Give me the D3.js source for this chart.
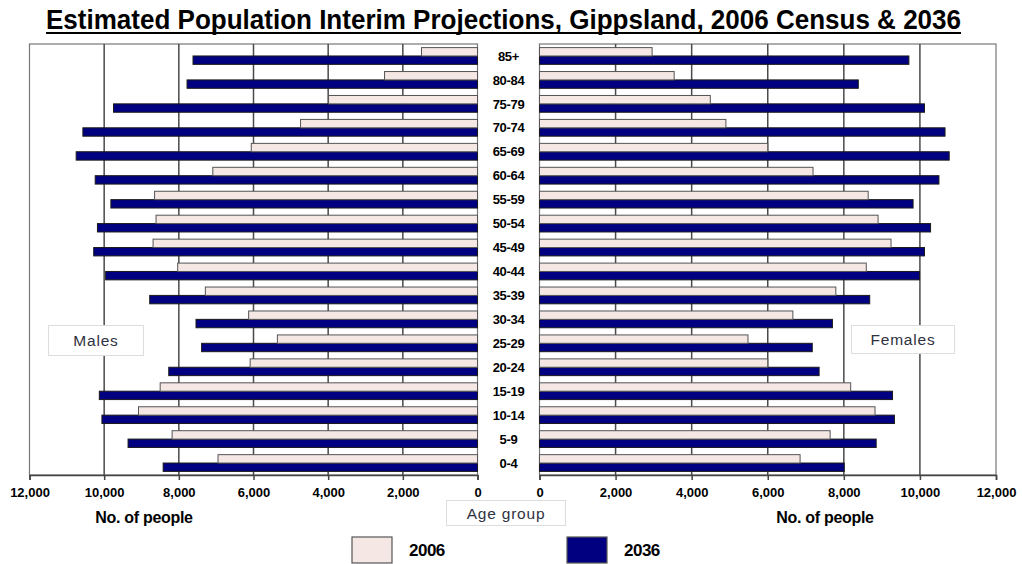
<!DOCTYPE html>
<html>
<head>
<meta charset="utf-8">
<script src="https://cdn.jsdelivr.net/npm/d3@7/dist/d3.min.js"></script>
<style>
  html, body { margin: 0; padding: 0; background: #fff; }
  svg { display: block; }
  text { font-family: Arial, "Liberation Sans", sans-serif; }
</style>
</head>
<body>
<svg id="chart" width="1022" height="564"></svg>
<script>
// Age groups, oldest at the top
const ageGroups = ["85+", "80-84", "75-79", "70-74", "65-69", "60-64", "55-59", "50-54", "45-49",
                   "40-44", "35-39", "30-34", "25-29", "20-24", "15-19", "10-14", "5-9", "0-4"];
const years = ["2006", "2036"];

// Males (persons), same order as ageGroups
const males2006 = [1500, 2490, 3990, 4740, 6060, 7090, 8650, 8610, 8690,
                   8030, 7290, 6130, 5360, 6090, 8500, 9080, 8180, 6950];
const males2036 = [7620, 7780, 9750, 10570, 10750, 10240, 9820, 10180, 10280,
                   9960, 8780, 7540, 7390, 8270, 10130, 10060, 9360, 8420];

// Females (persons)
const females2006 = [2960, 3540, 4490, 4900, 6000, 7190, 8640, 8900, 9240,
                     8590, 7790, 6660, 5480, 6000, 8180, 8820, 7640, 6850];
const females2036 = [9710, 8380, 10120, 10660, 10770, 10500, 9820, 10280, 10120,
                     9990, 8680, 7700, 7170, 7350, 9280, 9330, 8850, 8010];

const tickValues = [0, 2000, 4000, 6000, 8000, 10000, 12000];
const xMax = 12000;

const colors = { "2006": "#f4e7e4", "2036": "#000080" };
const strokes = { "2006": "#555", "2036": "#1a1a1a" };

const svg = d3.select("#chart");

const plotTop = 44, plotBottom = 475;
const leftPanel = { x0: 29.5, x1: 477.5 };
const rightPanel = { x0: 539.5, x1: 996 };

const y = d3.scaleBand().domain(ageGroups).range([plotTop, plotBottom])
  .paddingInner(0.3).paddingOuter(0.15);
const yYear = d3.scaleBand().domain(years).range([0, y.bandwidth()]);

const xLeft = d3.scaleLinear().domain([0, xMax]).range([leftPanel.x1, leftPanel.x0]);
const xRight = d3.scaleLinear().domain([0, xMax]).range([rightPanel.x0, rightPanel.x1]);

// Title (condensed bold, underlined)
svg.append("text")
  .attr("x", 46).attr("y", 29)
  .attr("textLength", 915).attr("lengthAdjust", "spacingAndGlyphs")
  .attr("font-family", "'Liberation Sans Narrow', 'Arial Narrow', Arial, sans-serif")
  .attr("font-size", 27).attr("font-weight", "bold")
  .attr("fill", "#000")
  .text("Estimated Population Interim Projections, Gippsland, 2006 Census & 2036");
svg.append("line")
  .attr("x1", 46).attr("x2", 961).attr("y1", 33).attr("y2", 33)
  .attr("stroke", "#000").attr("stroke-width", 2);

function panel(x, panelDef, data2006, data2036) {
  const g = svg.append("g");
  // frame
  g.append("rect")
    .attr("x", panelDef.x0).attr("y", plotTop)
    .attr("width", panelDef.x1 - panelDef.x0).attr("height", plotBottom - plotTop)
    .attr("fill", "#fff").attr("stroke", "#777").attr("stroke-width", 1.2);
  // vertical gridlines
  g.selectAll("line.grid").data(tickValues.filter(v => v > 0 && v < xMax))
    .join("line").attr("class", "grid")
    .attr("x1", d => x(d)).attr("x2", d => x(d))
    .attr("y1", plotTop).attr("y2", plotBottom)
    .attr("stroke", "#4a4a4a").attr("stroke-width", 1.5);

  const series = [
    { year: "2036", values: data2036 },
    { year: "2006", values: data2006 }
  ];
  series.forEach(s => {
    g.selectAll(null).data(ageGroups)
      .join("rect")
      .attr("x", (d, i) => Math.min(x(0), x(s.values[i])))
      .attr("y", d => y(d) + yYear(s.year))
      .attr("width", (d, i) => Math.abs(x(s.values[i]) - x(0)))
      .attr("height", yYear.bandwidth())
      .attr("fill", colors[s.year])
      .attr("stroke", strokes[s.year])
      .attr("stroke-width", 1);
  });

  // bottom axis
  const axis = d3.axisBottom(x).tickValues(tickValues)
    .tickFormat(d3.format(",")).tickSize(5).tickPadding(8);
  const ax = g.append("g").attr("transform", `translate(0,${plotBottom})`).call(axis);
  ax.select(".domain").attr("stroke", "#444").attr("stroke-width", 1.5);
  ax.selectAll(".tick line").attr("stroke", "#444").attr("stroke-width", 1.5);
  ax.selectAll(".tick text")
    .attr("font-family", "Arial, 'Liberation Sans', sans-serif")
    .attr("font-size", 13).attr("font-weight", "bold").attr("fill", "#000");
}

panel(xLeft, leftPanel, males2006, males2036);
panel(xRight, rightPanel, females2006, females2036);

// Age group labels in the centre column
const centreX = (leftPanel.x1 + rightPanel.x0) / 2;
svg.append("g").selectAll("text").data(ageGroups)
  .join("text")
  .attr("x", centreX)
  .attr("y", d => y(d) + y.bandwidth() / 2)
  .attr("dy", "0.36em")
  .attr("text-anchor", "middle")
  .attr("font-size", 13).attr("font-weight", "bold")
  .attr("letter-spacing", -0.3)
  .attr("fill", "#000")
  .text(d => d);

// Axis titles
[144, 825].forEach(cx => {
  svg.append("text")
    .attr("x", cx).attr("y", 523)
    .attr("text-anchor", "middle")
    .attr("font-size", 16).attr("font-weight", "bold").attr("fill", "#000")
    .attr("letter-spacing", -0.3)
    .text("No. of people");
});

// Boxed labels
function boxedLabel(x, yTop, w, h, label) {
  svg.append("rect").attr("x", x).attr("y", yTop).attr("width", w).attr("height", h)
    .attr("fill", "#fff").attr("stroke", "#ddd").attr("stroke-width", 1);
  svg.append("text")
    .attr("x", x + w / 2).attr("y", yTop + h / 2).attr("dy", "0.36em")
    .attr("text-anchor", "middle")
    .attr("font-size", 15.5).attr("letter-spacing", 0.8)
    .attr("fill", "#2f3140")
    .text(label);
}
boxedLabel(48.5, 325.5, 95, 30, "Males");
boxedLabel(851.5, 325.5, 103, 28, "Females");
boxedLabel(446.5, 500.5, 119, 25, "Age group");

// Legend
const legend = svg.append("g");
const legendX = { "2006": 352, "2036": 567 };
years.forEach(yr => {
  legend.append("rect")
    .attr("x", legendX[yr]).attr("y", 537)
    .attr("width", 40).attr("height", 26)
    .attr("fill", colors[yr]).attr("stroke", "#555").attr("stroke-width", 1.2);
  legend.append("text")
    .attr("x", legendX[yr] + 57).attr("y", 550).attr("dy", "0.36em")
    .attr("font-size", 17).attr("font-weight", "bold").attr("fill", "#000")
    .attr("letter-spacing", -0.5)
    .text(yr);
});
</script>
</body>
</html>
